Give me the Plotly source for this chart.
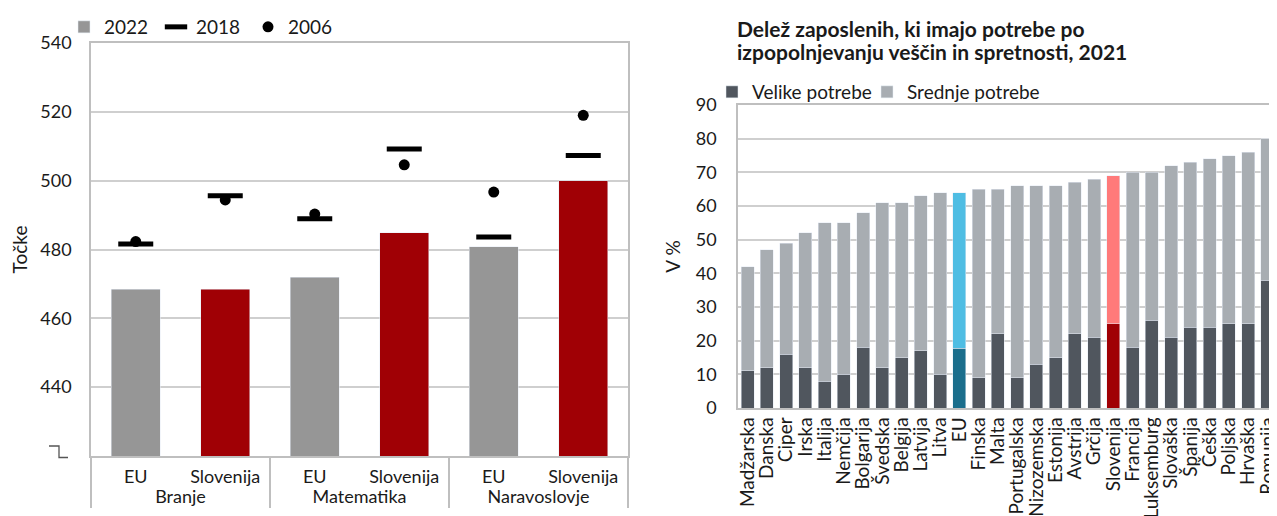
import plotly.graph_objects as go

# ---------------- Left chart data (PISA points) ----------------
groups = ["Branje", "Branje", "Matematika", "Matematika", "Naravoslovje", "Naravoslovje"]
subcats = ["EU", "Slovenija", "EU", "Slovenija", "EU", "Slovenija"]
pisa_2022 = [468.5, 468.5, 472, 484.8, 480.8, 500]
pisa_2018 = [481.6, 495.6, 488.9, 509.2, 483.6, 507.3]
pisa_2006 = [482.3, 494.4, 490.3, 504.6, 496.7, 519]
left_colors = ["#969696", "#A00005", "#969696", "#A00005", "#969696", "#A00005"]

# ---------------- Right chart data (% employees) ----------------
countries = ["Madžarska", "Danska", "Ciper", "Irska", "Italija", "Nemčija", "Bolgarija",
             "Švedska", "Belgija", "Latvija", "Litva", "EU", "Finska", "Malta",
             "Portugalska", "Nizozemska", "Estonija", "Avstrija", "Grčija", "Slovenija",
             "Francija", "Luksemburg", "Slovaška", "Španija", "Češka", "Poljska",
             "Hrvaška", "Romunija"]
velike = [11, 12, 16, 12, 8, 10, 18, 12, 15, 17, 10, 17.7, 9, 22, 9, 13, 15, 22, 21, 25,
          18, 26, 21, 24, 24, 25, 25, 38]
skupaj = [42, 47, 49, 52, 55, 55, 58, 61, 61, 63, 64, 64, 65, 65, 66, 66, 66, 67, 68, 69,
          70, 70, 72, 73, 74, 75, 76, 80]
srednje = [round(t - v, 1) for t, v in zip(skupaj, velike)]

dark_colors = ["#1B6E8C" if c == "EU" else "#A00005" if c == "Slovenija" else "#50565E" for c in countries]
light_colors = ["#4FBDE3" if c == "EU" else "#FF7A7A" if c == "Slovenija" else "#A8ADB2" for c in countries]

FONT = "Lato"
W, H = 1269, 508   # visible area after the page's 8px body offset
OFF = 8

def px(x):
    return min(1.0, max(0.0, (x - OFF) / W))

def py(y):
    return min(1.0, max(0.0, 1 - (y - OFF) / H))

fig = go.Figure()

xcat = [groups, subcats]
fig.add_trace(go.Bar(x=xcat, y=pisa_2022, name="2022", marker_color=left_colors,
                     width=0.55, xaxis="x", yaxis="y", legend="legend"))
fig.add_trace(go.Scatter(x=xcat, y=pisa_2018, name="2018", mode="markers",
                         marker=dict(symbol="line-ew", size=25, line=dict(width=5, color="black"), color="black"),
                         xaxis="x", yaxis="y", legend="legend"))
fig.add_trace(go.Scatter(x=xcat, y=pisa_2006, name="2006", mode="markers",
                         marker=dict(symbol="circle", size=11, color="black"),
                         xaxis="x", yaxis="y", legend="legend"))

fig.add_trace(go.Bar(x=countries, y=velike, name="Velike potrebe", marker_color=dark_colors,
                     width=0.68, xaxis="x2", yaxis="y2", legend="legend2"))
fig.add_trace(go.Bar(x=countries, y=srednje, name="Srednje potrebe", marker_color=light_colors,
                     width=0.68, xaxis="x2", yaxis="y2", legend="legend3"))

grid = "#CFCFCF"
frame = "#BFBFBF"
txt = "#1a1a1a"
ytickfont = dict(family=FONT, size=18, color=txt)
legfont = dict(family=FONT, size=19, color=txt)

fig.update_layout(
    width=W, height=H,
    margin=dict(l=0, r=0, t=0, b=0, autoexpand=False),
    paper_bgcolor="white", plot_bgcolor="white",
    barmode="stack",
    font=dict(family=FONT, size=17, color=txt),
    xaxis=dict(domain=[px(91), px(628)], anchor="y", type="multicategory",
               showline=True, linecolor=frame, linewidth=1.5, mirror=True,
               showdividers=True, dividercolor=frame, dividerwidth=1.5,
               tickfont=dict(family=FONT, size=18, color=txt), showgrid=False, ticks="",
               automargin=False, ticklabelstandoff=4),
    yaxis=dict(domain=[py(456), py(43)], anchor="x", range=[420, 540],
               tickvals=[440, 460, 480, 500, 520, 540],
               showgrid=True, gridcolor=grid, gridwidth=1.5,
               showline=True, linecolor=frame, linewidth=1.5, mirror=True,
               tickfont=ytickfont, ticklabelstandoff=14, zeroline=False, automargin=False,
               title=dict(text="Točke", font=dict(family=FONT, size=19), standoff=12)),
    xaxis2=dict(domain=[px(738), px(1279)], anchor="y2", tickangle=-90,
                tickmode="array", tickvals=countries, ticktext=countries,
                showline=True, linecolor=frame, linewidth=1.5, mirror=True,
                tickfont=dict(family=FONT, size=19, color=txt), showgrid=False, ticks="",
                automargin=False),
    yaxis2=dict(domain=[py(408), py(105)], anchor="x2", range=[0, 90], dtick=10,
                showgrid=True, gridcolor=grid, gridwidth=1.5,
                showline=True, linecolor=frame, linewidth=1.5, mirror=True,
                tickfont=ytickfont, ticklabelstandoff=16, zeroline=False, automargin=False,
                title=dict(text="V %", font=dict(family=FONT, size=19), standoff=10)),
    legend=dict(orientation="h", x=px(64), y=py(6), xanchor="left", yanchor="top",
                font=legfont, bgcolor="rgba(0,0,0,0)",
                entrywidth=47, traceorder="normal", itemwidth=30),
    legend2=dict(orientation="h", x=px(712), y=py(73), xanchor="left", yanchor="top",
                 font=legfont, bgcolor="rgba(0,0,0,0)", itemwidth=30),
    legend3=dict(orientation="h", x=px(867), y=py(73), xanchor="left", yanchor="top",
                 font=legfont, bgcolor="rgba(0,0,0,0)", itemwidth=30),
    showlegend=True,
)

# Right chart title (two lines)
title_lines = ["Delež zaposlenih, ki imajo potrebe po",
               "izpopolnjevanju veščin in spretnosti, 2021"]
for i, line in enumerate(title_lines):
    fig.add_annotation(text=f"<b>{line}</b>", xref="paper", yref="paper",
                       x=px(735), y=py(28 + 24 * i), xanchor="left", yanchor="middle",
                       align="left", showarrow=False,
                       font=dict(family=FONT, size=21, color=txt))

# Axis break glyph on the left chart
fig.add_shape(type="path", xref="paper", yref="paper",
              path=f"M {px(49)} {py(446)} L {px(59)} {py(446)} L {px(59)} {py(457.5)} L {px(68)} {py(457.5)}",
              line=dict(color="#555555", width=1.3))

fig.write_html("out.html")
